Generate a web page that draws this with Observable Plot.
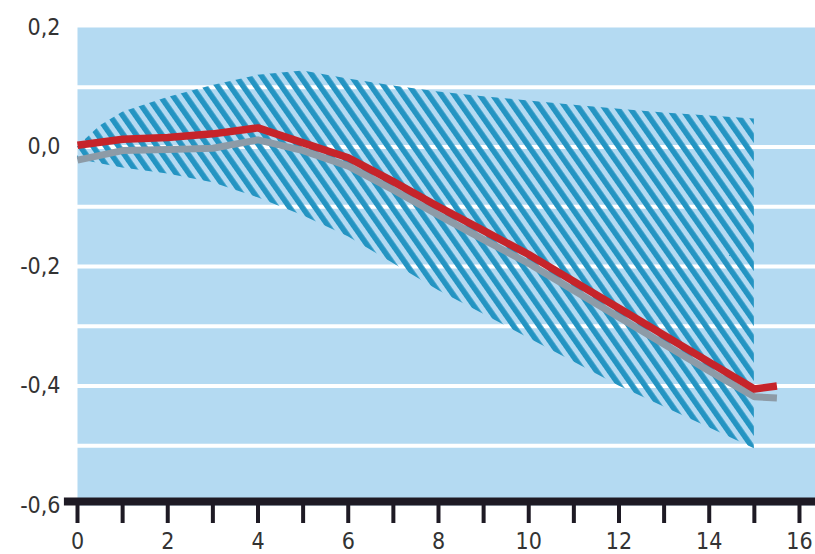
<!DOCTYPE html>
<html>
<head>
<meta charset="utf-8">
<script src="https://cdn.jsdelivr.net/npm/d3@7"></script>
<script src="https://cdn.jsdelivr.net/npm/@observablehq/plot@0.6"></script>
<style>
  html, body { margin: 0; padding: 0; background: #ffffff; }
  #chart svg { display: block; }
</style>
</head>
<body>
<div id="chart"></div>
<script>
// Hatched band (range)
const bandX = [0, 0.5, 1, 2, 3, 4, 5, 6, 7, 8, 9, 10, 11, 12, 13, 14, 15];
const bandUpper = [0.0, 0.035, 0.058, 0.083, 0.103, 0.12, 0.127, 0.114, 0.102, 0.092, 0.084, 0.077, 0.07, 0.063, 0.057, 0.052, 0.047];
const bandLower = [-0.02, -0.028, -0.035, -0.045, -0.06, -0.085, -0.115, -0.15, -0.195, -0.24, -0.28, -0.32, -0.36, -0.40, -0.435, -0.47, -0.505];

// Lines
const lineX = [0, 1, 2, 3, 4, 5, 6, 7, 8, 9, 10, 11, 12, 13, 14, 15, 15.5];
const redValues = [0.003, 0.013, 0.016, 0.022, 0.032, 0.007, -0.018, -0.058, -0.1, -0.14, -0.18, -0.225, -0.27, -0.315, -0.36, -0.405, -0.40];
const grayValues = [-0.022, -0.006, -0.004, -0.002, 0.012, -0.006, -0.032, -0.072, -0.114, -0.155, -0.195, -0.24, -0.285, -0.33, -0.375, -0.418, -0.42];

// Ticks
const xTicks = d3.range(0, 17);
const yTickLabels = [0.2, 0, -0.2, -0.4, -0.6];
const gridValues = [0.1, 0, -0.1, -0.2, -0.3, -0.4, -0.5];

const band = bandX.map((x, i) => ({x, lo: bandLower[i], hi: bandUpper[i]}));
const red = lineX.map((x, i) => ({x, y: redValues[i]}));
const gray = lineX.map((x, i) => ({x, y: grayValues[i]}));

const BG = "#b4daf2";
const HATCH = "#2494c2";
const FONT = "'DejaVu Sans Condensed', 'DejaVu Sans', sans-serif";

const defsMark = () => {
  const defs = d3.create("svg:defs");
  const p = defs.append("pattern")
    .attr("id", "hatch")
    .attr("patternUnits", "userSpaceOnUse")
    .attr("width", 10.5)
    .attr("height", 10.5)
    .attr("patternTransform", "rotate(-35)");
  p.append("rect").attr("x", 0).attr("y", 0).attr("width", 5.5).attr("height", 10.5).attr("fill", HATCH);
  return defs.node();
};

const chart = Plot.plot({
  width: 815,
  height: 554,
  marginLeft: 77,
  marginRight: 0,
  marginTop: 27,
  marginBottom: 49,
  style: {fontFamily: FONT, fontSize: "22px", color: "#333", background: "#ffffff"},
  x: {domain: [0, 16.355], label: null},
  y: {domain: [-0.6, 0.2], label: null},
  marks: [
    defsMark,
    Plot.frame({fill: BG, stroke: null}),
    Plot.ruleY(gridValues, {stroke: "#ffffff", strokeWidth: 4}),
    Plot.areaY(band, {x: "x", y1: "lo", y2: "hi", fill: "url(#hatch)"}),
    Plot.line(gray, {x: "x", y: "y", stroke: "#8d9ba7", strokeWidth: 7, strokeLinejoin: "round", strokeLinecap: "butt"}),
    Plot.line(red, {x: "x", y: "y", stroke: "#c6242a", strokeWidth: 7.5, strokeLinejoin: "round", strokeLinecap: "butt"}),
    Plot.axisX({
      ticks: xTicks,
      tickSize: 18,
      tickPadding: 9,
      strokeWidth: 4,
      stroke: "#1e1a24",
      fill: "#333",
      label: null,
      tickFormat: d => (d % 2 === 0 ? String(d) : ""),
      fontSize: 23
    }),
    Plot.ruleY([-0.6], {x1: -0.29, x2: 16.355, stroke: "#1e1a24", strokeWidth: 8, dy: -4}),
    Plot.axisY({
      ticks: yTickLabels,
      tickSize: 0,
      tickPadding: 17,
      fill: "#333",
      label: null,
      tickFormat: d => d3.format(".1f")(d).replace("−", "-").replace(".", ","),
      fontSize: 23
    })
  ]
});

document.getElementById("chart").appendChild(chart);
</script>
</body>
</html>
